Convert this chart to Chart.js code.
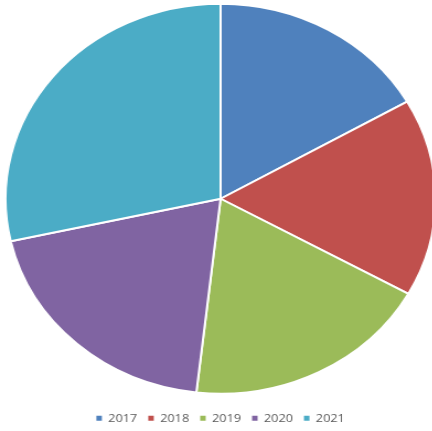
<!DOCTYPE html>
<html>
<head>
<meta charset="utf-8">
<script src="https://cdn.jsdelivr.net/npm/chart.js@4/dist/chart.umd.min.js"></script>
<style>
  html, body { margin: 0; padding: 0; background: #ffffff; overflow: hidden; width: 432px; height: 431px; }
  #wrap { position: absolute; left: 0; top: -6px; width: 396px; height: 440px;
          transform: scaleX(1.103); transform-origin: 0 0; }
</style>
</head>
<body>
<div id="wrap"><canvas id="c"></canvas></div>
<script>
const categories = ["2017", "2018", "2019", "2020", "2021"];
const values = [16.7, 16.4, 18.7, 19.7, 28.5];
const colors = ["#4F81BD", "#C0504D", "#9BBB59", "#8064A2", "#4BACC6"];

new Chart(document.getElementById('c'), {
  type: 'pie',
  data: {
    labels: categories,
    datasets: [{
      data: values,
      backgroundColor: colors,
      borderColor: '#ffffff',
      borderWidth: 2
    }]
  },
  options: {
    responsive: true,
    maintainAspectRatio: false,
    animation: false,
    layout: { padding: { top: 1, bottom: 0, left: 4, right: 0 } },
    plugins: {
      tooltip: { enabled: false },
      legend: {
        position: 'bottom',
        labels: {
          boxWidth: 5,
          boxHeight: 5,
          padding: 10,
          color: '#595959',
          font: { family: 'Open Sans', size: 11.5 },
          generateLabels: function (chart) {
            const items = Chart.overrides.pie.plugins.legend.labels.generateLabels(chart);
            items.forEach(function (it) { it.lineWidth = 0; it.strokeStyle = it.fillStyle; });
            return items;
          }
        }
      }
    }
  }
});
</script>
</body>
</html>
